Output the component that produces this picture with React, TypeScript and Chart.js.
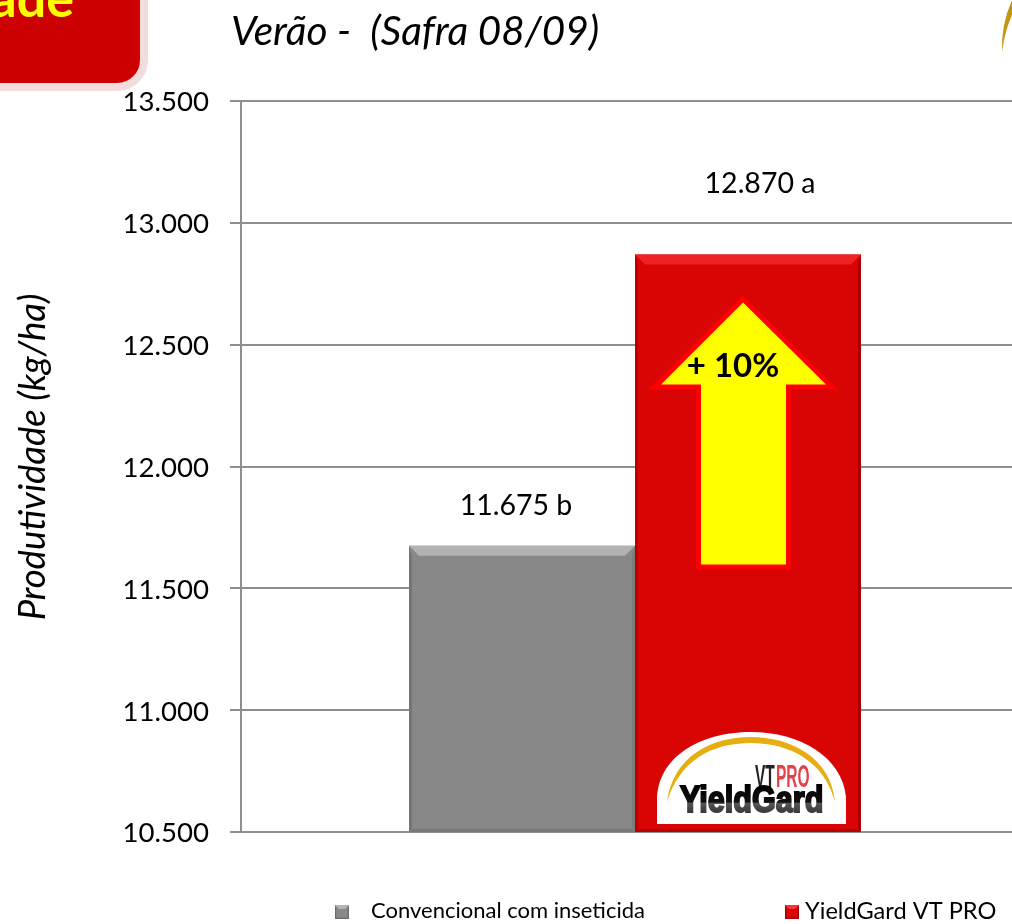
import React, { useEffect, useRef } from "react";
import { Chart, registerables } from "chart.js";

Chart.register(...registerables);

const categories = [""];
const conventionalValues = [11675];
const yieldGardValues = [12870];
const seriesNames = ["Convencional com inseticida", "YieldGard VT PRO"];
const valueLabels = ["11.675 b", "12.870 a"];
const titleText = "Verão -  (Safra 08/09)";
const axisTitle = "Produtividade (kg/ha)";
const calloutText = "Produtividade";
const arrowText = "+ 10%";

const FONT = "Lato, 'Noto Sans', sans-serif";

function formatTick(v: number) {
  return String(v).replace(/\B(?=(\d{3})+$)/g, ".");
}

function bevel(ctx: CanvasRenderingContext2D, x0: number, y0: number, x1: number, y1: number, b: number, top: string, left: string, right: string, bottom: string) {
  const s = b / 3.3;
  const poly = (pts: number[][], c: string) => {
    ctx.fillStyle = c;
    ctx.beginPath();
    pts.forEach((p, i) => (i ? ctx.lineTo(p[0], p[1]) : ctx.moveTo(p[0], p[1])));
    ctx.closePath();
    ctx.fill();
  };
  poly([[x0, y0], [x1, y0], [x1 - b, y0 + b], [x0 + b, y0 + b]], top);
  poly([[x0, y0], [x0 + s, y0 + b], [x0 + s, y1 - s], [x0, y1]], left);
  poly([[x1, y0], [x1 - s, y0 + b], [x1 - s, y1 - s], [x1, y1]], right);
  poly([[x0, y1], [x0 + s, y1 - s], [x1 - s, y1 - s], [x1, y1]], bottom);
}

const decorations = {
  id: "decorations",
  afterDatasetsDraw(chart: any) {
    const ctx: CanvasRenderingContext2D = chart.ctx;
    const gray = chart.getDatasetMeta(0).data[0];
    const red = chart.getDatasetMeta(1).data[0];
    const gx0 = gray.x - gray.width / 2, gx1 = gray.x + gray.width / 2;
    const rx0 = red.x - red.width / 2, rx1 = red.x + red.width / 2;
    const base = chart.chartArea.bottom;

    ctx.save();
    bevel(ctx, gx0, gray.y, gx1, base, 10, "#b2b2b2", "#757575", "#7c7c7c", "#787878");
    bevel(ctx, rx0, red.y, rx1, base, 10, "#ee2222", "#b80000", "#a80000", "#b80000");

    // Value labels above the bars
    ctx.fillStyle = "#000";
    ctx.font = `28.5px ${FONT}`;
    ctx.textAlign = "center";
    ctx.textBaseline = "middle";
    ctx.fillText(valueLabels[0], gx0 + 107, gray.y - 40);
    ctx.fillText(valueLabels[1], rx0 + 125, red.y - 71);

    // Arrow, placed relative to the red bar's top-left corner
    ctx.translate(rx0, red.y);
    const arrow = (tip: number, wing: number, l: number, r: number, sl: number, sr: number, bot: number, cx: number, c: string) => {
      ctx.fillStyle = c;
      ctx.beginPath();
      ctx.moveTo(cx, tip);
      ctx.lineTo(r, wing);
      ctx.lineTo(sr, wing);
      ctx.lineTo(sr, bot);
      ctx.lineTo(sl, bot);
      ctx.lineTo(sl, wing);
      ctx.lineTo(l, wing);
      ctx.closePath();
      ctx.fill();
    };
    arrow(41, 135, 13, 203, 61, 156, 315, 108, "#ff0000");
    arrow(48, 130, 26, 191, 66, 151, 310, 108, "#ffff00");
    ctx.fillStyle = "#000";
    ctx.font = `bold 33px ${FONT}`;
    ctx.fillText(arrowText, 98, 112);
    ctx.restore();

    // YieldGard logo at the foot of the red bar
    ctx.save();
    ctx.translate(rx0, base);
    ctx.fillStyle = "#fff";
    ctx.beginPath();
    ctx.moveTo(22, -8);
    ctx.lineTo(211, -8);
    ctx.lineTo(211, -35);
    ctx.bezierCurveTo(207, -75, 165, -100, 116, -100);
    ctx.bezierCurveTo(65, -100, 24, -75, 22, -35);
    ctx.closePath();
    ctx.fill();
    // Gold crescent: thick at the crown, tapering to both ends
    ctx.fillStyle = "#e6ae10";
    ctx.beginPath();
    ctx.moveTo(32, -30);
    ctx.bezierCurveTo(38, -75, 75, -95, 116, -95);
    ctx.bezierCurveTo(155, -95, 196, -75, 200, -30);
    ctx.bezierCurveTo(190, -70, 155, -89, 116, -89);
    ctx.bezierCurveTo(75, -89, 44, -70, 32, -30);
    ctx.closePath();
    ctx.fill();
    ctx.textAlign = "left";
    ctx.textBaseline = "alphabetic";
    ctx.save();
    ctx.translate(120, -45);
    ctx.scale(0.5, 1);
    ctx.font = "bold 31px 'Liberation Sans', sans-serif";
    ctx.fillStyle = "#222";
    ctx.fillText("VT", 0, 0);
    ctx.fillStyle = "#e8404a";
    ctx.fillText("PRO", 42, 0);
    ctx.restore();
    ctx.save();
    ctx.translate(45, -20);
    const grad = ctx.createLinearGradient(0, -28, 0, 2);
    grad.addColorStop(0, "#000");
    grad.addColorStop(0.6, "#111");
    grad.addColorStop(0.65, "#555");
    grad.addColorStop(1, "#333");
    ctx.fillStyle = grad;
    ctx.strokeStyle = grad;
    ctx.lineWidth = 2;
    ctx.scale(0.85, 1);
    ctx.font = "bold 36px 'Liberation Sans', sans-serif";
    ctx.fillText("YieldGard", 0, 0);
    ctx.strokeText("YieldGard", 0, 0);
    ctx.restore();
    ctx.restore();
  },
  afterDraw(chart: any) {
    const ctx: CanvasRenderingContext2D = chart.ctx;
    ctx.save();
    // Callout cropped at the top-left corner
    ctx.fillStyle = "#cc0000";
    ctx.strokeStyle = "#f3dcdc";
    ctx.lineWidth = 8;
    ctx.beginPath();
    ctx.roundRect(-40, -40, 184, 127, 27);
    ctx.fill();
    ctx.stroke();
    ctx.fillStyle = "#ffff00";
    ctx.font = `bold 52px ${FONT}`;
    ctx.textAlign = "right";
    ctx.textBaseline = "alphabetic";
    ctx.fillText(calloutText, 74, 17);

    // Title
    ctx.fillStyle = "#000";
    ctx.textAlign = "left";
    ctx.textBaseline = "middle";
    ctx.font = `italic 40.5px ${FONT}`;
    ctx.fillText(titleText, 231, 32);

    // Value-axis title
    ctx.save();
    ctx.translate(33, 457);
    ctx.rotate(-Math.PI / 2);
    ctx.textAlign = "center";
    ctx.font = `italic 36.5px ${FONT}`;
    ctx.fillText(axisTitle, 0, 0);
    ctx.restore();

    // Gold sweep of the cropped logo at top right
    ctx.fillStyle = "#c4960f";
    ctx.beginPath();
    ctx.moveTo(1012, 0);
    ctx.quadraticCurveTo(1001, 25, 1002, 52);
    ctx.quadraticCurveTo(1005, 30, 1012, 15);
    ctx.closePath();
    ctx.fill();

    // Legend
    const items = [
      { x: 335, tx: 371, size: 22, fill: chart.data.datasets[0].backgroundColor, top: "#b5b5b5", edge: "#6a6a6a" },
      { x: 785, tx: 805, size: 23.6, fill: chart.data.datasets[1].backgroundColor, top: "#f33", edge: "#a00000" },
    ];
    items.forEach((it, i) => {
      ctx.fillStyle = it.fill;
      ctx.fillRect(it.x, 905, 14, 14);
      bevel(ctx, it.x, 905, it.x + 14, 919, 4, it.top, it.edge, it.edge, it.edge);
      ctx.fillStyle = "#000";
      ctx.font = `${it.size}px ${FONT}`;
      ctx.fillText(seriesNames[i], it.tx, 911);
    });
    ctx.restore();
  },
};

export default function App() {
  const ref = useRef<HTMLCanvasElement>(null);
  useEffect(() => {
    const chart = new Chart(ref.current!, {
      type: "bar",
      data: {
        labels: categories,
        datasets: [
          { label: seriesNames[0], data: conventionalValues, backgroundColor: "#888888" },
          { label: seriesNames[1], data: yieldGardValues, backgroundColor: "#d90404" },
        ],
      },
      options: {
        responsive: false,
        animation: false,
        layout: { padding: { top: 101, bottom: 92, left: 0, right: 11 } },
        plugins: { legend: { display: false }, title: { display: false }, tooltip: { enabled: false } },
        datasets: { bar: { categoryPercentage: 0.5736, barPercentage: 1 } },
        scales: {
          x: {
            ticks: { display: false },
            grid: { display: false },
            border: { display: false },
            afterFit(s: any) { s.height = 0; },
          },
          y: {
            min: 10500,
            max: 13500,
            afterFit(s: any) { s.width = 241; },
            ticks: {
              stepSize: 500,
              padding: 21,
              labelOffset: 1.5,
              color: "#000",
              font: { family: FONT, size: 27.6 },
              callback: (v: any) => formatTick(Number(v)),
            },
            grid: { color: "#8e8e8e", lineWidth: 2, tickLength: 11 },
            border: { color: "#8e8e8e", width: 2 },
          },
        },
      },
      plugins: [decorations],
    } as any);
    return () => chart.destroy();
  }, []);
  return (
    <div style={{ position: "absolute", left: 0, top: 0, width: 1012, height: 924, overflow: "hidden", background: "#fff" }}>
      <canvas ref={ref} width={1040} height={924} style={{ display: "block" }} />
    </div>
  );
}
